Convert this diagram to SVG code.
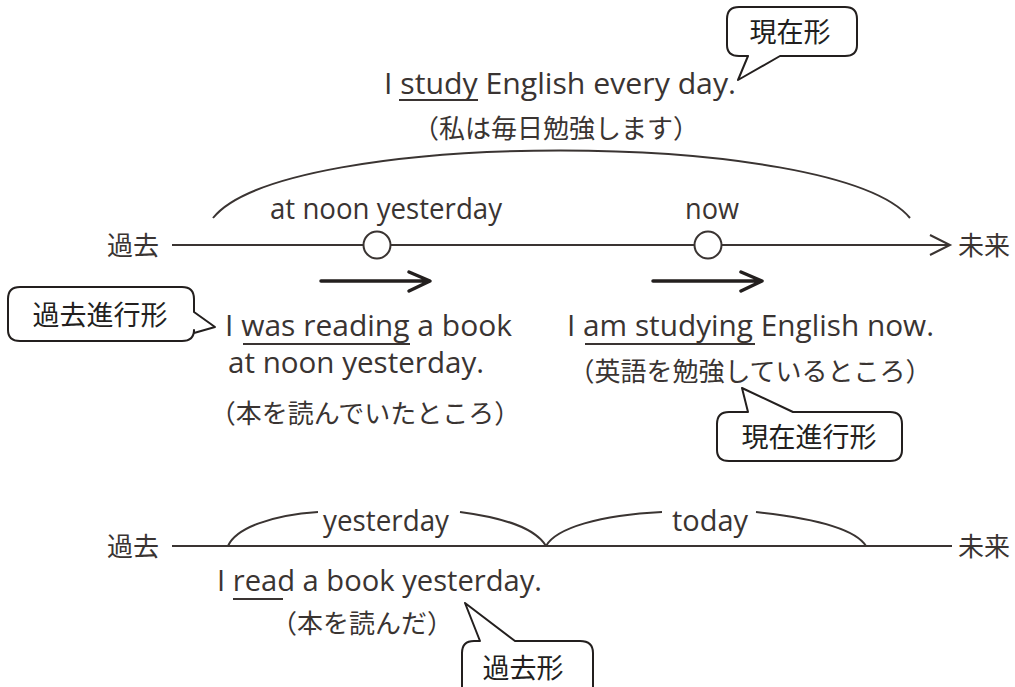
<svg xmlns="http://www.w3.org/2000/svg" width="1015" height="687" viewBox="0 0 1015 687">
<style>
.en{font-family:"Open Sans","Liberation Sans",sans-serif;font-size:30px;fill:#3a3432}
.ja{font-family:"Noto Sans CJK JP",sans-serif;font-size:26px;fill:#3a3432}
.cl{font-family:"Noto Sans CJK JP",sans-serif;font-size:27px;fill:#231f1e}
.ln{stroke:#3a3432;stroke-width:2;fill:none}
.bx{stroke:#231f1e;stroke-width:2;fill:#fff;stroke-linejoin:round}
.ar{stroke:#231f1e;stroke-width:3.5;fill:none;stroke-linecap:round;stroke-linejoin:round}
</style>
<rect width="1015" height="687" fill="#fff"/>
<g id="connectors">
<line class="ln" x1="172" y1="245" x2="950" y2="245"/>
<polyline class="ln" points="930,235 950,245 930,255"/>
<path class="ln" d="M213,218 C285,128 835,128 910,218"/>
<path class="ar" d="M321,281 H429 M409,272 L430,281 L409,291"/>
<path class="ar" d="M653,281 H761 M741,272 L762,281 L741,291"/>
<line class="ln" x1="172" y1="546" x2="952" y2="546"/>
<path class="ln" d="M228,546 C236,528 272,515 318,512"/>
<path class="ln" d="M460,512 C505,518 535,528 546,546"/>
<path class="ln" d="M546,546 C556,528 600,515 662,512"/>
<path class="ln" d="M756,512 C812,518 855,528 866,546"/>
<line class="ln" x1="399" y1="100" x2="478" y2="100"/>
<line class="ln" x1="243" y1="344" x2="410" y2="344"/>
<line class="ln" x1="585" y1="344" x2="755" y2="344"/>
<line class="ln" x1="233" y1="599" x2="283" y2="599"/>
</g>
<g id="past-label1"><text class="ja" x="107" y="255">過去</text></g>
<g id="future-label1"><text class="ja" x="958" y="255">未来</text></g>
<g id="past-label2"><text class="ja" x="107" y="556">過去</text></g>
<g id="future-label2"><text class="ja" x="958" y="556">未来</text></g>
<g id="point-noon">
<circle cx="377" cy="245" r="13.5" fill="#fff" stroke="#3a3432" stroke-width="2"/>
<text class="en" x="270" y="219" textLength="232" lengthAdjust="spacingAndGlyphs">at noon yesterday</text>
</g>
<g id="point-now">
<circle cx="708" cy="245" r="13.5" fill="#fff" stroke="#3a3432" stroke-width="2"/>
<text class="en" x="685" y="219" textLength="54" lengthAdjust="spacingAndGlyphs">now</text>
</g>
<g id="present">
<text class="en" x="384" y="94" textLength="352" lengthAdjust="spacingAndGlyphs">I study English every day.</text>
<text class="ja" x="556" y="138" text-anchor="middle">（私は毎日勉強します）</text>
</g>
<g id="callout-present">
<path class="bx" d="M739,7 H845 Q857,7 857,19 V45 Q857,56 845,56 H780 L738,80 L748,56 H739 Q727,56 727,45 V19 Q727,7 739,7 Z"/>
<text class="cl" x="790" y="42" text-anchor="middle">現在形</text>
</g>
<g id="past-progressive">
<text class="en" x="225" y="336" textLength="287" lengthAdjust="spacingAndGlyphs" style="font-size:29px">I was reading a book</text>
<text class="en" x="228" y="373" textLength="256" lengthAdjust="spacingAndGlyphs" style="font-size:29px">at noon yesterday.</text>
<text class="ja" x="365" y="423" text-anchor="middle">（本を読んでいたところ）</text>
</g>
<g id="callout-past-progressive">
<path class="bx" d="M20,287 H182 Q194,287 194,299 V312 L215,327 L194,333 V330 Q194,341 182,341 H20 Q8,341 8,330 V299 Q8,287 20,287 Z"/>
<text class="cl" x="100" y="325" text-anchor="middle">過去進行形</text>
</g>
<g id="present-progressive">
<text class="en" x="567" y="336" textLength="367" lengthAdjust="spacingAndGlyphs">I am studying English now.</text>
<text class="ja" x="750" y="381" text-anchor="middle">（英語を勉強しているところ）</text>
</g>
<g id="callout-present-progressive">
<path class="bx" d="M729,412 H748 L742,388 L793,412 H890 Q902,412 902,424 V450 Q902,461 890,461 H729 Q717,461 717,450 V424 Q717,412 729,412 Z"/>
<text class="cl" x="809" y="447" text-anchor="middle">現在進行形</text>
</g>
<g id="yesterday-today">
<text class="en" x="323" y="531" textLength="126" lengthAdjust="spacingAndGlyphs">yesterday</text>
<text class="en" x="672" y="531" textLength="76" lengthAdjust="spacingAndGlyphs">today</text>
</g>
<g id="past-simple">
<text class="en" x="217" y="591" textLength="325" lengthAdjust="spacingAndGlyphs">I read a book yesterday.</text>
<text class="ja" x="362" y="633" text-anchor="middle">（本を読んだ）</text>
</g>
<g id="callout-past">
<path class="bx" d="M474,641 H480 L465,603 L515,641 H580 Q593,641 593,653 V700 H462 V653 Q462,641 474,641 Z"/>
<text class="cl" x="523" y="678" text-anchor="middle">過去形</text>
</g>
</svg>
